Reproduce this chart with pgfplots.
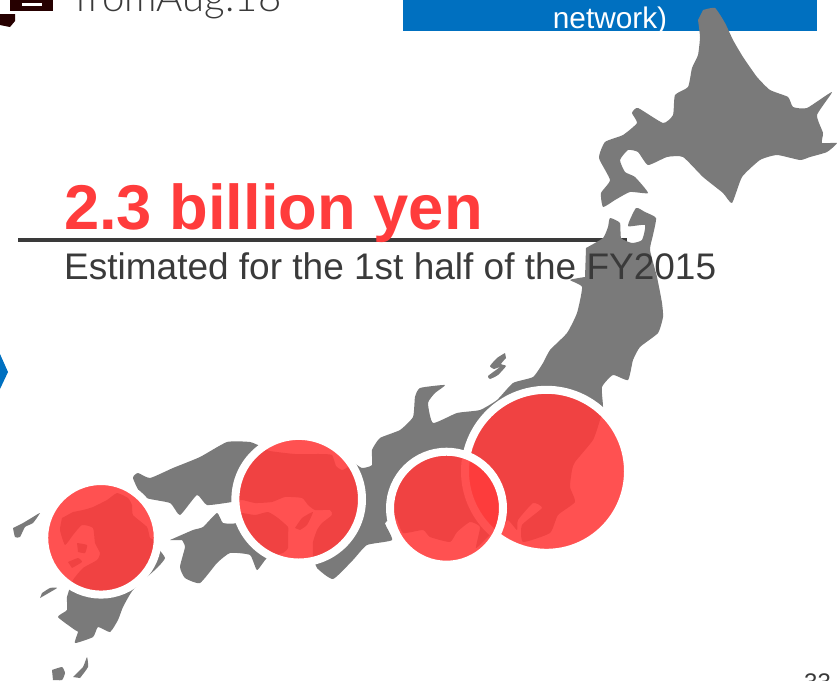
\documentclass[border=0pt]{standalone}
\usepackage{fontspec}
\setmainfont{Liberation Sans}
\newfontfamily\lightfont{Lato Light}
\usepackage{pgfplots}
\pgfplotsset{compat=1.18}
\definecolor{landgray}{HTML}{7A7A7A}
\definecolor{bubblered}{HTML}{FF3C3C}
\definecolor{slideblue}{HTML}{0070C0}
\definecolor{inkdark}{HTML}{3A3A3A}
\begin{document}
\begin{tikzpicture}
\begin{axis}[
  at={(0,0)}, anchor=south west,
  scale only axis, width=837pt, height=680pt,
  xmin=0, xmax=837, ymin=0, ymax=680, y dir=reverse,
  hide axis, clip mode=global,
  land/.style={fill=landgray, draw=none, forget plot, smooth, tension=0.3},
  bubble/.style={only marks, mark=*, mark size=#1, mark options={line width=8pt, draw=white, fill=bubblered, fill opacity=.89}},
  area legend
]
% header band, chevron and printer icon
\addplot[fill=slideblue, draw=none] coordinates {(403,0)(817,0)(817,31)(403,31)} -- cycle;
\addplot[fill=slideblue, draw=none] coordinates {(0,354)(8,372)(0,389)} -- cycle;
\addplot[fill=black!85!red, draw=none] coordinates {(10,0)(53,0)(53,11)(10,11)} -- cycle;
\addplot[fill=white, draw=none] coordinates {(22,3)(42,3)(42,6)(22,6)} -- cycle;
\addplot[fill=black!85!red, draw=none] coordinates {(0,14)(15,14)(15,21)(10,27)(0,25)} -- cycle;
% rule under the headline
\addplot[draw=inkdark, line width=4pt] coordinates {(18,240)(627,240)};
% Hokkaido
\addplot[land] coordinates {(703,10)(715,8)(725,23)(733,40)(743,57)(757,77)(770,90)(788,97)(793,107)(807,108)(832,92)(817,115)(823,133)(822,143)(837,143)(827,152)(810,157)(800,160)(777,155)(760,160)(742,177)(732,203)(723,193)(703,177)(683,157)(667,157)(648,165)(638,152)(628,150)(620,160)(625,172)(635,177)(648,193)(630,192)(615,200)(603,207)(601,193)(610,180)(599,158)(605,142)(623,135)(637,123)(632,113)(638,108)(663,123)(673,115)(675,95)(688,87)(692,68)(698,55)(700,37)(698,20)} -- cycle;
% Honshu
\addplot[land] coordinates {(586,248)(603,238)(608,227)(610,218)(620,223)(621,238)(632,243)(642,240)(645,225)(628,226)(636,208)(645,212)(656,218)(653,235)(650,250)(657,277)(662,303)(663,317)(658,333)(640,347)(633,360)(628,380)(613,375)(602,387)(603,407)(600,420)(593,440)(575,462)(572,470)(570,487)(575,502)(558,515)(550,533)(523,542)(522,525)(542,508)(533,503)(518,520)(517,530)(508,520)(503,527)(490,535)(476,548)(480,527)(470,522)(457,532)(450,542)(430,537)(423,530)(403,533)(396,518)(385,523)(392,540)(367,545)(353,560)(333,579)(317,568)(313,555)(313,542)(317,530)(322,523)(332,515)(330,510)(315,510)(308,505)(302,498)(285,497)(272,502)(255,503)(242,500)(232,502)(207,505)(197,495)(180,515)(170,503)(143,497)(133,478)(138,473)(150,478)(173,468)(200,457)(227,442)(250,442)(262,447)(270,451)(295,454)(320,454)(332,455)(336,466)(342,470)(348,467)(352,462)(362,468)(372,465)(372,450)(380,438)(400,430)(413,417)(415,397)(420,388)(445,385)(435,393)(428,403)(433,423)(457,413)(480,410)(497,400)(513,383)(533,377)(543,363)(550,350)(567,333)(577,313)(582,287)(570,280)(585,277)} -- cycle;
% Shikoku
\addplot[land] coordinates {(170,540)(193,530)(203,527)(217,513)(223,523)(237,523)(240,513)(255,515)(268,512)(278,518)(288,527)(288,535)(288,548)(283,553)(267,558)(257,570)(250,555)(230,553)(217,563)(200,583)(185,578)(180,567)(185,547)(182,540)} -- cycle;
% Kyushu
\addplot[land] coordinates {(62,518)(60,530)(65,545)(73,535)(82,525)(93,528)(95,543)(100,553)(97,560)(83,568)(73,580)(67,597)(67,610)(58,617)(75,630)(78,632)(75,643)(93,637)(98,627)(110,632)(118,620)(123,607)(133,590)(157,568)(165,558)(158,548)(155,540)(150,538)(147,527)(133,515)(132,505)(128,498)(117,493)(107,500)(93,507)(83,510)(73,512)} -- cycle;
% Smaller islands
\addplot[land] coordinates {(295,528)(302,518)(313,512)(307,525)(300,530)} -- cycle;
\addplot[land] coordinates {(77,543)(87,545)(85,553)(78,552)} -- cycle;
\addplot[land] coordinates {(68,562)(78,558)(82,562)(72,568)} -- cycle;
\addplot[land] coordinates {(505,353)(497,358)(490,366)(494,369)(500,367)(488,376)(490,379)(498,375)(506,366)(501,364)(506,358)} -- cycle;
\addplot[land] coordinates {(13,528)(15,537)(20,537)(25,527)(33,523)(40,513)(33,517)(23,523)} -- cycle;
\addplot[land] coordinates {(40,598)(57,588)(50,588)(42,593)} -- cycle;
\addplot[land] coordinates {(52,670)(62,667)(65,673)(62,680)(53,680)} -- cycle;
\addplot[land] coordinates {(73,677)(83,667)(87,657)(88,667)(80,678)} -- cycle;
% Regional bubbles, largest first
\addplot[bubble=81.5pt] coordinates {(546.5,471.3)};
\addplot[bubble=63.3pt] coordinates {(298.7,499.2)};
\addplot[bubble=56.5pt] coordinates {(446.5,508.2)};
\addplot[bubble=56.8pt] coordinates {(101,537.8)};
% Texts
\node[anchor=base west, inner sep=0, text=bubblered, font=\fontsize{63.3}{63}\selectfont\bfseries] at (axis cs:64,229) {2.3 billion yen};
\node[anchor=base west, inner sep=0, text=inkdark, font=\fontsize{37}{37}\selectfont] at (axis cs:64,279) {Estimated for the 1st half of the FY2015};
\node[anchor=base, inner sep=0, text=white, font=\fontsize{29.8}{30}\selectfont] at (axis cs:610,28) {network)};
\node[anchor=base west, inner sep=0, text=inkdark, font=\fontsize{40.2}{40}\selectfont\lightfont] at (axis cs:75,11) {fromAug.18};
\node[anchor=base west, inner sep=0, text=inkdark, font=\fontsize{24}{24}\selectfont] at (axis cs:804,690) {33};
\end{axis}
\end{tikzpicture}
\end{document}
